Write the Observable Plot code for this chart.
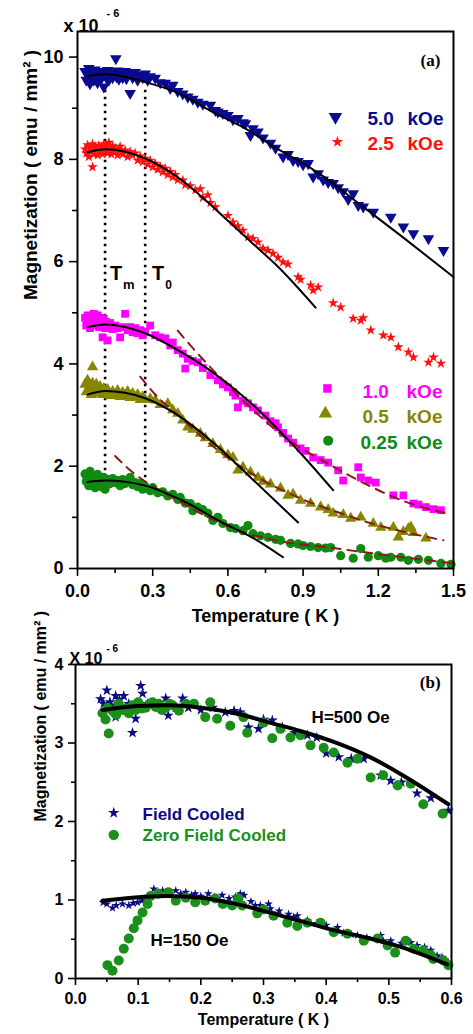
<!DOCTYPE html>
<html><head><meta charset="utf-8">
<script src="https://cdn.jsdelivr.net/npm/d3@7"></script>
<script src="https://cdn.jsdelivr.net/npm/@observablehq/plot@0.6"></script>
<style>
body{margin:0;background:#fff;}
#chart{width:473px;}
#chart svg{display:block;}
</style></head><body><div id="chart"></div>
<script>
// ---------------- Panel (a) data : [Temperature (K), Magnetization (x1e-6 emu/mm^2)] ----------------
const field5_0 = [[0.03,9.72],[0.035,9.55],[0.04,9.66],[0.045,9.78],[0.05,9.48],[0.055,9.62],[0.06,9.7],[0.065,9.55],[0.07,9.75],[0.075,9.63],[0.08,9.5],[0.085,9.68],[0.09,9.72],[0.095,9.58],[0.1,9.64],[0.105,9.42],[0.11,9.7],[0.115,9.6],[0.12,9.74],[0.125,9.55],[0.13,9.66],[0.135,9.71],[0.14,9.6],[0.145,9.68],[0.153,9.97],[0.155,9.62],[0.16,9.73],[0.165,9.57],[0.17,9.68],[0.175,9.7],[0.18,9.6],[0.185,9.66],[0.19,9.72],[0.195,9.58],[0.2,9.65],[0.21,9.29],[0.21,9.68],[0.22,9.6],[0.23,9.7],[0.24,9.55],[0.25,9.65],[0.26,9.6],[0.27,9.67],[0.28,9.55],[0.29,9.62],[0.31,9.59],[0.33,9.5],[0.35,9.49],[0.37,9.39],[0.38,9.45],[0.4,9.33],[0.42,9.28],[0.44,9.22],[0.46,9.18],[0.48,9.12],[0.5,9.08],[0.53,9.06],[0.55,8.96],[0.56,8.93],[0.58,8.9],[0.6,8.86],[0.62,8.78],[0.64,8.8],[0.66,8.72],[0.67,8.7],[0.69,8.47],[0.7,8.6],[0.72,8.54],[0.74,8.42],[0.77,8.32],[0.79,8.22],[0.82,8.05],[0.84,8.1],[0.86,7.98],[0.88,7.96],[0.9,7.9],[0.92,7.92],[0.94,7.66],[0.96,7.72],[0.98,7.6],[1.0,7.55],[1.02,7.53],[1.04,7.45],[1.06,7.37],[1.08,7.22],[1.1,7.33],[1.12,7.1],[1.14,7.07],[1.18,6.97],[1.25,6.87],[1.3,6.68],[1.34,6.55],[1.4,6.45],[1.46,6.22]];
const field2_5 = [[0.03,8.2],[0.035,8.12],[0.04,8.28],[0.045,8.05],[0.05,8.22],[0.055,8.15],[0.06,7.85],[0.06,8.3],[0.065,8.1],[0.07,8.25],[0.075,8.18],[0.08,8.08],[0.085,8.27],[0.09,8.15],[0.095,8.22],[0.1,8.1],[0.105,8.3],[0.11,8.18],[0.115,8.25],[0.12,8.12],[0.125,8.33],[0.13,8.2],[0.135,8.1],[0.14,8.26],[0.145,8.15],[0.15,8.22],[0.16,8.08],[0.165,8.18],[0.17,8.25],[0.18,8.1],[0.19,8.18],[0.2,8.05],[0.21,8.15],[0.22,8.08],[0.23,8.12],[0.24,7.98],[0.25,8.06],[0.26,7.95],[0.27,8.02],[0.28,7.9],[0.29,7.98],[0.3,7.85],[0.31,7.92],[0.32,7.8],[0.33,7.86],[0.34,7.75],[0.35,7.82],[0.36,7.7],[0.37,7.76],[0.38,7.65],[0.39,7.7],[0.4,7.6],[0.42,7.59],[0.43,7.5],[0.45,7.48],[0.47,7.4],[0.49,7.42],[0.5,7.25],[0.52,7.3],[0.53,7.15],[0.55,7.07],[0.6,6.9],[0.62,6.77],[0.64,6.7],[0.66,6.61],[0.68,6.48],[0.7,6.45],[0.72,6.38],[0.74,6.26],[0.76,6.22],[0.78,6.16],[0.8,6.08],[0.82,5.99],[0.84,5.95],[0.88,5.7],[0.89,5.65],[0.93,5.54],[0.94,5.44],[0.96,5.5],[1.02,5.19],[1.05,5.11],[1.1,4.89],[1.13,4.85],[1.14,4.9],[1.17,4.66],[1.22,4.56],[1.25,4.52],[1.28,4.33],[1.32,4.23],[1.34,4.13],[1.4,4.03],[1.42,4.13],[1.45,4.01]];
const field1_0 = [[0.03,4.9],[0.035,4.75],[0.04,4.95],[0.045,4.82],[0.05,4.7],[0.055,4.92],[0.06,4.85],[0.065,4.98],[0.07,4.76],[0.075,4.88],[0.08,4.95],[0.085,4.72],[0.09,4.85],[0.095,4.9],[0.1,4.52],[0.1,4.78],[0.105,4.88],[0.11,4.7],[0.115,4.82],[0.12,4.46],[0.125,4.75],[0.13,4.8],[0.14,4.68],[0.15,4.75],[0.16,4.7],[0.17,4.52],[0.18,4.72],[0.19,4.98],[0.2,4.66],[0.21,4.72],[0.22,4.62],[0.23,4.7],[0.24,4.6],[0.25,4.66],[0.26,4.56],[0.27,4.63],[0.29,4.75],[0.31,4.56],[0.33,4.52],[0.35,4.5],[0.37,4.36],[0.38,4.42],[0.4,4.27],[0.42,4.2],[0.43,3.91],[0.44,4.1],[0.46,4.06],[0.48,4.03],[0.5,3.92],[0.53,3.78],[0.56,3.68],[0.58,3.6],[0.6,3.54],[0.62,3.45],[0.63,3.38],[0.64,3.15],[0.66,3.28],[0.68,3.23],[0.7,3.15],[0.72,3.09],[0.75,2.99],[0.77,2.88],[0.79,2.84],[0.8,2.76],[0.82,2.65],[0.84,2.54],[0.86,2.46],[0.89,2.35],[0.91,2.3],[0.94,2.17],[0.97,2.12],[1.0,2.07],[1.04,1.92],[1.06,1.72],[1.12,1.98],[1.13,1.78],[1.16,1.72],[1.19,1.68],[1.26,1.43],[1.3,1.43],[1.34,1.27],[1.36,1.25],[1.39,1.2],[1.42,1.16],[1.45,1.14]];
const field0_5 = [[0.03,3.6],[0.035,3.45],[0.04,3.68],[0.045,3.5],[0.05,3.58],[0.055,3.4],[0.06,3.94],[0.06,3.62],[0.065,3.52],[0.07,3.46],[0.075,3.6],[0.08,3.5],[0.085,3.42],[0.09,3.56],[0.095,3.48],[0.1,3.4],[0.105,3.52],[0.11,3.45],[0.12,3.5],[0.13,3.38],[0.14,3.46],[0.15,3.4],[0.16,3.48],[0.17,3.36],[0.18,3.44],[0.19,3.38],[0.2,3.46],[0.21,3.34],[0.22,3.42],[0.23,3.35],[0.24,3.4],[0.25,3.3],[0.26,3.36],[0.27,3.3],[0.29,3.32],[0.31,3.29],[0.33,3.2],[0.36,3.22],[0.38,3.1],[0.4,3.03],[0.42,2.9],[0.44,2.76],[0.46,2.72],[0.49,2.64],[0.51,2.55],[0.54,2.44],[0.57,2.32],[0.6,2.22],[0.62,2.17],[0.64,1.92],[0.66,1.98],[0.69,1.88],[0.72,1.78],[0.74,1.7],[0.77,1.65],[0.81,1.57],[0.84,1.43],[0.86,1.45],[0.89,1.33],[0.93,1.27],[0.97,1.2],[1.0,1.15],[1.02,1.08],[1.06,1.05],[1.09,0.98],[1.13,1.0],[1.18,0.88],[1.21,0.8],[1.26,0.8],[1.28,0.61],[1.3,0.72],[1.32,0.78],[1.33,0.81],[1.34,0.7],[1.39,0.59]];
const field0_25 = [[0.03,1.85],[0.035,1.7],[0.04,1.78],[0.045,1.62],[0.05,1.9],[0.055,1.74],[0.06,1.66],[0.065,1.8],[0.07,1.58],[0.075,1.72],[0.08,1.84],[0.085,1.65],[0.09,1.76],[0.095,1.6],[0.1,1.7],[0.105,1.78],[0.11,1.55],[0.115,1.68],[0.12,1.74],[0.13,1.66],[0.14,1.76],[0.15,1.68],[0.16,1.72],[0.17,1.62],[0.18,1.74],[0.19,1.66],[0.2,1.7],[0.21,1.78],[0.22,1.64],[0.23,1.68],[0.24,1.6],[0.25,1.66],[0.26,1.55],[0.27,1.6],[0.29,1.52],[0.3,1.58],[0.32,1.48],[0.34,1.5],[0.36,1.42],[0.38,1.45],[0.4,1.35],[0.41,1.39],[0.43,1.28],[0.45,1.27],[0.46,1.13],[0.48,1.2],[0.5,1.15],[0.52,1.08],[0.54,0.94],[0.56,1.0],[0.58,0.88],[0.61,0.8],[0.63,0.78],[0.66,0.74],[0.68,0.84],[0.7,0.68],[0.73,0.64],[0.76,0.61],[0.79,0.57],[0.81,0.55],[0.85,0.49],[0.88,0.48],[0.9,0.45],[0.93,0.43],[0.96,0.41],[0.99,0.4],[1.01,0.41],[1.05,0.25],[1.1,0.2],[1.13,0.39],[1.16,0.22],[1.2,0.25],[1.23,0.2],[1.25,0.22],[1.29,0.22],[1.32,0.16],[1.36,0.18],[1.4,0.16],[1.45,0.1],[1.49,0.08]];

// low-temperature fits (solid black)
const fit5_0 = [[0.04,9.63],[0.11,9.67],[0.27,9.51],[0.4,9.3],[0.53,8.95],[0.67,8.6],[0.8,8.2],[0.9,7.92],[1.0,7.6],[1.1,7.22],[1.3,6.47],[1.5,5.7]];
const fit2_5 = [[0.04,8.14],[0.11,8.2],[0.27,8.02],[0.4,7.65],[0.5,7.25],[0.6,6.8],[0.7,6.35],[0.8,5.9],[0.95,5.1]];
const fit1_0 = [[0.04,4.72],[0.11,4.77],[0.27,4.6],[0.4,4.27],[0.53,3.87],[0.67,3.33],[0.8,2.72],[0.9,2.2],[1.02,1.53]];
const fit0_5 = [[0.04,3.4],[0.11,3.47],[0.27,3.33],[0.4,3.0],[0.56,2.38],[0.68,1.83],[0.88,0.9]];
const fit0_25 = [[0.04,1.69],[0.11,1.72],[0.27,1.62],[0.43,1.3],[0.57,0.92],[0.71,0.57],[0.82,0.22]];
// high-temperature fits (dashed)
const hfit1_0 = [[0.4,4.65],[0.48,4.2],[0.56,3.78],[0.7,3.1],[0.84,2.52],[1.0,2.05],[1.15,1.65],[1.3,1.32],[1.47,1.08]];
const hfit0_5 = [[0.25,3.75],[0.32,3.35],[0.4,3.0],[0.55,2.35],[0.72,1.78],[0.89,1.37],[1.05,1.08],[1.16,0.9],[1.3,0.72],[1.46,0.55]];
const hfit0_25 = [[0.15,2.2],[0.22,1.88],[0.31,1.58],[0.4,1.33],[0.53,0.98],[0.67,0.7],[0.79,0.55],[1.02,0.4],[1.25,0.25],[1.5,0.1]];

const Tm = 0.11, T0 = 0.27;
const xTicksA = [0, 0.3, 0.6, 0.9, 1.2, 1.5];
const xMinorA = [0.15, 0.45, 0.75, 1.05, 1.35];
const yTicksA = [0, 2, 4, 6, 8, 10];
const yMinorA = [1, 3, 5, 7, 9];
const legendA = ["5.0", "2.5", "1.0", "0.5", "0.25"];

// ---------------- Panel (b) data ----------------
const fc500 = [[0.04,3.56],[0.045,3.5],[0.05,3.67],[0.055,3.52],[0.06,3.45],[0.064,3.6],[0.064,3.33],[0.07,3.55],[0.077,3.6],[0.085,3.5],[0.091,3.13],[0.096,3.31],[0.1,3.5],[0.104,3.73],[0.107,3.63],[0.115,3.5],[0.128,3.48],[0.135,3.45],[0.144,3.57],[0.148,3.35],[0.16,3.45],[0.171,3.57],[0.18,3.45],[0.2,3.42],[0.219,3.45],[0.239,3.39],[0.253,3.41],[0.263,3.39],[0.276,3.2],[0.292,3.18],[0.3,3.3],[0.314,3.29],[0.33,3.2],[0.35,3.13],[0.37,3.1],[0.385,3.07],[0.4,2.87],[0.42,2.82],[0.44,2.8],[0.46,2.8],[0.487,2.59],[0.503,2.52],[0.52,2.5],[0.545,2.36],[0.567,2.3],[0.595,2.14]];
const zfc500 = [[0.043,3.38],[0.048,3.3],[0.051,3.45],[0.053,3.12],[0.059,3.41],[0.065,3.36],[0.069,3.5],[0.075,3.42],[0.08,3.44],[0.085,3.38],[0.091,3.48],[0.096,3.42],[0.1,3.52],[0.106,3.44],[0.112,3.45],[0.118,3.5],[0.123,3.52],[0.128,3.46],[0.133,3.5],[0.138,3.42],[0.144,3.45],[0.15,3.5],[0.155,3.48],[0.165,3.41],[0.176,3.5],[0.189,3.5],[0.207,3.33],[0.215,3.52],[0.226,3.31],[0.247,3.22],[0.268,3.33],[0.274,3.13],[0.3,3.26],[0.314,3.06],[0.327,3.18],[0.343,3.07],[0.359,3.1],[0.375,2.97],[0.396,2.94],[0.412,2.88],[0.434,2.75],[0.45,2.8],[0.471,2.56],[0.491,2.59],[0.514,2.46],[0.535,2.48],[0.555,2.22],[0.586,2.1]];
const fc150 = [[0.044,0.97],[0.05,0.95],[0.059,0.9],[0.065,0.93],[0.075,0.95],[0.085,0.93],[0.092,0.96],[0.099,0.97],[0.106,0.99],[0.115,1.05],[0.125,1.14],[0.132,1.1],[0.139,1.12],[0.15,1.1],[0.16,1.12],[0.168,1.08],[0.176,1.1],[0.185,1.06],[0.191,1.08],[0.2,1.05],[0.212,1.08],[0.222,1.04],[0.234,1.06],[0.245,1.02],[0.255,1.04],[0.263,1.08],[0.269,1.06],[0.28,0.98],[0.287,0.93],[0.295,0.93],[0.308,0.95],[0.311,0.89],[0.325,0.86],[0.34,0.82],[0.348,0.78],[0.354,0.8],[0.37,0.74],[0.385,0.7],[0.4,0.68],[0.418,0.65],[0.428,0.58],[0.44,0.56],[0.45,0.55],[0.465,0.52],[0.487,0.55],[0.491,0.48],[0.503,0.48],[0.52,0.45],[0.535,0.46],[0.545,0.42],[0.557,0.4],[0.567,0.36],[0.577,0.29],[0.585,0.27],[0.595,0.2]];
const zfc150 = [[0.051,0.17],[0.059,0.1],[0.069,0.23],[0.077,0.38],[0.085,0.51],[0.093,0.64],[0.099,0.74],[0.107,0.84],[0.115,0.95],[0.12,1.05],[0.132,1.08],[0.148,1.1],[0.16,0.99],[0.176,1.03],[0.191,0.97],[0.207,0.99],[0.223,1.02],[0.235,0.95],[0.25,0.93],[0.26,1.02],[0.266,0.93],[0.29,0.83],[0.3,0.88],[0.316,0.8],[0.338,0.71],[0.354,0.67],[0.37,0.71],[0.391,0.71],[0.412,0.59],[0.434,0.57],[0.46,0.48],[0.482,0.51],[0.498,0.42],[0.51,0.33],[0.527,0.48],[0.54,0.38],[0.555,0.36],[0.567,0.3],[0.571,0.25],[0.587,0.23],[0.595,0.17]];
const fitB500 = [[0.043,3.42],[0.1,3.47],[0.15,3.48],[0.2,3.45],[0.26,3.37],[0.31,3.26],[0.36,3.15],[0.41,3.02],[0.47,2.82],[0.52,2.6],[0.595,2.22]];
const fitB150 = [[0.043,0.99],[0.09,1.03],[0.145,1.05],[0.2,1.03],[0.25,0.96],[0.31,0.84],[0.36,0.73],[0.41,0.62],[0.47,0.51],[0.52,0.4],[0.593,0.18]];

const xTicksB = [0, 0.1, 0.2, 0.3, 0.4, 0.5, 0.6];
const xMinorB = [0.05, 0.15, 0.25, 0.35, 0.45, 0.55];
const yTicksB = [0, 1, 2, 3, 4];
const yMinorB = [0.5, 1.5, 2.5, 3.5];

// ---------------- styling ----------------
const F = "Liberation Sans, Arial, Helvetica, sans-serif";
const SERIF = "Liberation Serif, Times New Roman, serif";
const NAVY = "#0a0a90", RED = "#ff1010", MAG = "#ff00ff", OLIVE = "#868600", GREEN = "#118a11", DASH = "#8b1a1a";
const NAVYB = "#0b0b80", GREENB = "#1a8f1a";
const X = d => d[0], Y = d => d[1];
const triDown = {draw(ctx, size) {
  const y = -Math.sqrt(size / (Math.sqrt(3) * 3));
  ctx.moveTo(0, -2 * y);
  ctx.lineTo(-Math.sqrt(3) * y, y);
  ctx.lineTo(Math.sqrt(3) * y, y);
  ctx.closePath();
}};
const yLabel = "Magnetization ( emu / mm\u00B2 )";
const xLabel = "Temperature ( K )";

const plotA = Plot.plot({
  width: 473, height: 640,
  marginLeft: 77, marginRight: 20, marginTop: 31, marginBottom: 72,
  style: {fontFamily: F, fontWeight: "bold", fontSize: "18px", background: "white", color: "black", overflow: "visible"},
  x: {domain: [0, 1.5]},
  y: {domain: [0, 10.5]},
  marks: [
    Plot.axisX(xTicksA, {tickSize: 8, tickPadding: 8, tickFormat: d3.format(".1f"), label: null, fontSize: 18, strokeWidth: 1.6}),
    Plot.axisX(xMinorA, {tickSize: 5, tickFormat: () => "", label: null, strokeWidth: 1.6}),
    Plot.axisY(yTicksA, {tickSize: 8, tickPadding: 6, tickFormat: d => String(d), label: null, fontSize: 18, strokeWidth: 1.6}),
    Plot.axisY(yMinorA, {tickSize: 5, tickFormat: () => "", label: null, strokeWidth: 1.6}),
    Plot.ruleX([Tm, T0], {y1: 1.5, y2: 9.35, stroke: "black", strokeWidth: 2.6, strokeDasharray: "2.5,4.5"}),
    Plot.dot(field0_25, {x: X, y: Y, r: 4.6, fill: GREEN}),
    Plot.dot(field0_5, {x: X, y: Y, symbol: "triangle", r: 4.2, fill: OLIVE}),
    Plot.dot(field1_0, {x: X, y: Y, symbol: "square", r: 4.4, fill: MAG}),
    Plot.dot(field2_5, {x: X, y: Y, symbol: "star", r: 3.3, fill: RED}),
    Plot.dot(field5_0, {x: X, y: Y, symbol: triDown, r: 4.3, fill: NAVY}),
    Plot.line(hfit1_0, {x: X, y: Y, curve: "monotone-x", stroke: DASH, strokeWidth: 2, strokeDasharray: "9,7"}),
    Plot.line(hfit0_5, {x: X, y: Y, curve: "monotone-x", stroke: DASH, strokeWidth: 2, strokeDasharray: "9,7"}),
    Plot.line(hfit0_25, {x: X, y: Y, curve: "monotone-x", stroke: DASH, strokeWidth: 2, strokeDasharray: "9,7"}),
    Plot.line(fit5_0, {x: X, y: Y, curve: "monotone-x", stroke: "black", strokeWidth: 2}),
    Plot.line(fit2_5, {x: X, y: Y, curve: "monotone-x", stroke: "black", strokeWidth: 2}),
    Plot.line(fit1_0, {x: X, y: Y, curve: "monotone-x", stroke: "black", strokeWidth: 2}),
    Plot.line(fit0_5, {x: X, y: Y, curve: "monotone-x", stroke: "black", strokeWidth: 2}),
    Plot.line(fit0_25, {x: X, y: Y, curve: "monotone-x", stroke: "black", strokeWidth: 2}),
    Plot.frame({stroke: "black", strokeWidth: 2}),
    // T_m and T_0 labels
    Plot.text(["T"], {x: Tm, y: 5.77, dx: 11, fontSize: 20, fill: "black"}),
    Plot.text(["m"], {x: Tm, y: 5.55, dx: 18, textAnchor: "start", fontSize: 13, fill: "black"}),
    Plot.text(["T"], {x: T0, y: 5.77, dx: 13, fontSize: 20, fill: "black"}),
    Plot.text(["0"], {x: T0, y: 5.55, dx: 20, textAnchor: "start", fontSize: 12, fill: "black"}),
    // legend
    Plot.dot([0], {x: 1.029, y: 8.83, symbol: triDown, r: 5, fill: NAVY}),
    Plot.dot([0], {x: 1.037, y: 8.34, symbol: "star", r: 3.6, fill: RED}),
    Plot.dot([0], {x: 0.997, y: 3.52, symbol: "square", r: 4.8, fill: MAG}),
    Plot.dot([0], {x: 0.989, y: 3.03, symbol: "triangle", r: 5, fill: OLIVE}),
    Plot.dot([0], {x: 1.0, y: 2.5, r: 5, fill: GREEN}),
    Plot.text([legendA[0]], {x: 1.157, y: 8.8, textAnchor: "start", fontSize: 19, fill: NAVY}),
    Plot.text(["kOe"], {x: 1.46, y: 8.8, textAnchor: "end", fontSize: 19, fill: NAVY}),
    Plot.text([legendA[1]], {x: 1.157, y: 8.3, textAnchor: "start", fontSize: 19, fill: RED}),
    Plot.text(["kOe"], {x: 1.46, y: 8.3, textAnchor: "end", fontSize: 19, fill: RED}),
    Plot.text([legendA[2]], {x: 1.137, y: 3.46, textAnchor: "start", fontSize: 19, fill: MAG}),
    Plot.text(["kOe"], {x: 1.456, y: 3.46, textAnchor: "end", fontSize: 19, fill: MAG}),
    Plot.text([legendA[3]], {x: 1.137, y: 2.96, textAnchor: "start", fontSize: 19, fill: OLIVE}),
    Plot.text(["kOe"], {x: 1.456, y: 2.96, textAnchor: "end", fontSize: 19, fill: OLIVE}),
    Plot.text([legendA[4]], {x: 1.129, y: 2.45, textAnchor: "start", fontSize: 19, fill: GREEN}),
    Plot.text(["kOe"], {x: 1.456, y: 2.45, textAnchor: "end", fontSize: 19, fill: GREEN}),
    Plot.text(["(a)"], {x: 1.408, y: 9.94, fontFamily: SERIF, fontSize: 17, fill: "black"}),
    // axis titles and exponent
    Plot.text([yLabel], {frameAnchor: "left", dx: -47, rotate: -90, fontSize: 19, fill: "black"}),
    Plot.text([xLabel], {frameAnchor: "bottom", dy: 53, fontSize: 18, fill: "black"}),
    Plot.text(["x 10"], {frameAnchor: "top-left", dx: -14, dy: -12, textAnchor: "start", fontSize: 18, fill: "black"}),
    Plot.text(["- 6"], {frameAnchor: "top-left", dx: 29, dy: -22, textAnchor: "start", fontSize: 11, fill: "black"})
  ]
});

const plotB = Plot.plot({
  width: 473, height: 394,
  marginLeft: 75, marginRight: 22, marginTop: 24, marginBottom: 56,
  style: {fontFamily: F, fontWeight: "bold", fontSize: "16px", background: "white", color: "black", overflow: "visible"},
  x: {domain: [0, 0.6]},
  y: {domain: [0, 4]},
  marks: [
    Plot.axisX(xTicksB, {tickSize: 7, tickPadding: 7, tickFormat: d3.format(".1f"), label: null, fontSize: 16, strokeWidth: 1.6}),
    Plot.axisX(xMinorB, {tickSize: 4, tickFormat: () => "", label: null, strokeWidth: 1.6}),
    Plot.axisY(yTicksB, {tickSize: 7, tickPadding: 5, tickFormat: d => String(d), label: null, fontSize: 16, strokeWidth: 1.6}),
    Plot.axisY(yMinorB, {tickSize: 4, tickFormat: () => "", label: null, strokeWidth: 1.6}),
    Plot.dot(fc500, {x: X, y: Y, symbol: "star", r: 3.5, fill: NAVYB}),
    Plot.dot(fc150, {x: X, y: Y, symbol: "star", r: 2.8, fill: NAVYB}),
    Plot.dot(zfc500, {x: X, y: Y, r: 5, fill: GREENB}),
    Plot.dot(zfc150, {x: X, y: Y, r: 5, fill: GREENB}),
    Plot.line(fitB500, {x: X, y: Y, curve: "monotone-x", stroke: "black", strokeWidth: 4}),
    Plot.line(fitB150, {x: X, y: Y, curve: "monotone-x", stroke: "black", strokeWidth: 4}),
    Plot.frame({stroke: "black", strokeWidth: 2}),
    Plot.text(["H=500 Oe"], {x: 0.439, y: 3.32, fontSize: 17, fill: "black"}),
    Plot.text(["H=150 Oe"], {x: 0.182, y: 0.48, fontSize: 17, fill: "black"}),
    Plot.text(["(b)"], {x: 0.566, y: 3.77, fontFamily: SERIF, fontSize: 17, fill: "black"}),
    Plot.dot([0], {x: 0.061, y: 2.11, symbol: "star", r: 3.6, fill: NAVYB}),
    Plot.dot([0], {x: 0.061, y: 1.83, r: 5.2, fill: GREENB}),
    Plot.text(["Field Cooled"], {x: 0.107, y: 2.09, textAnchor: "start", fontSize: 17, fill: NAVYB}),
    Plot.text(["Zero Field Cooled"], {x: 0.107, y: 1.82, textAnchor: "start", fontSize: 17, fill: GREENB}),
    Plot.text([yLabel], {frameAnchor: "left", dx: -35, rotate: -90, fontSize: 16, fill: "black"}),
    Plot.text([xLabel], {frameAnchor: "bottom", dy: 46, fontSize: 16, fill: "black"}),
    Plot.text(["X 10"], {frameAnchor: "top-left", dx: -6, dy: -12, textAnchor: "start", fontSize: 16, fill: "black"}),
    Plot.text(["- 6"], {frameAnchor: "top-left", dx: 31, dy: -20, textAnchor: "start", fontSize: 10, fill: "black"})
  ]
});

document.getElementById("chart").append(plotA, plotB);
</script></body></html>
